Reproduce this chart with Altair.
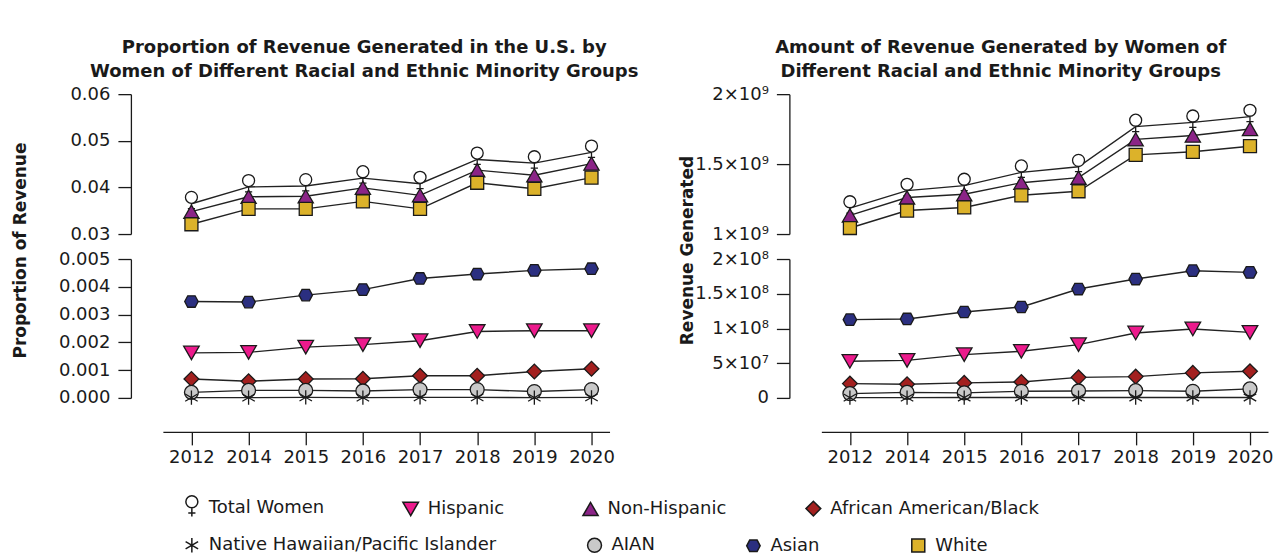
import altair as alt
import pandas as pd

years = ["2012", "2014", "2015", "2016", "2017", "2018", "2019", "2020"]

series_order = ["Total Women", "Hispanic", "Non-Hispanic", "African American/Black",
                "Native Hawaiian/Pacific Islander", "AIAN", "Asian", "White"]
legend_row1 = ["Total Women", "Hispanic", "Non-Hispanic", "African American/Black"]
legend_row2 = ["Native Hawaiian/Pacific Islander", "AIAN", "Asian", "White"]
series_fill = ["#ffffff", "#ec1a8c", "#8b2487", "#a3201f", "#111111", "#c9c9c9", "#2b2f80", "#dcb22a"]

FEMALE = "M0.75,-0.8A0.75,0.75,0,1,1,-0.75,-0.8A0.75,0.75,0,1,1,0.75,-0.8Z M0,-0.05L0,1.05M-0.45,0.62L0.45,0.62"
ASTERISK = "M0,-1L0,1M-0.87,-0.5L0.87,0.5M-0.87,0.5L0.87,-0.5"
HEXAGON = "M-1,0L-0.55,-0.85L0.55,-0.85L1,0L0.55,0.85L-0.55,0.85Z"
series_shape = [FEMALE, "triangle-down", "triangle-up", "diamond", ASTERISK, "circle", HEXAGON, "square"]
series_size = [256, 169, 169, 150, 100, 156, 225, 196]

# Proportion of revenue
prop_total_women = [0.0365, 0.0401, 0.0403, 0.0420, 0.0408, 0.0460, 0.0452, 0.0475]
prop_non_hispanic = [0.0348, 0.0380, 0.0381, 0.0399, 0.0383, 0.0437, 0.0426, 0.0451]
prop_white = [0.0321, 0.0354, 0.0354, 0.0370, 0.0354, 0.0410, 0.0397, 0.0421]
prop_asian = [0.00347, 0.00345, 0.00370, 0.00390, 0.00430, 0.00446, 0.00459, 0.00465]
prop_hispanic = [0.00162, 0.00164, 0.00183, 0.00192, 0.00206, 0.00239, 0.00242, 0.00242]
prop_african = [0.00068, 0.00060, 0.00068, 0.00069, 0.00080, 0.00080, 0.00095, 0.00105]
prop_aian = [0.00020, 0.00027, 0.00027, 0.00025, 0.00030, 0.00030, 0.00023, 0.00030]
prop_nhpi = [0.00001, 0.00001, 0.00002, 0.00001, 0.00002, 0.00002, 0.00001, 0.00002]

# Amount of revenue
rev_total_women = [1.185e9, 1.310e9, 1.346e9, 1.441e9, 1.481e9, 1.768e9, 1.798e9, 1.839e9]
rev_non_hispanic = [1.133e9, 1.261e9, 1.284e9, 1.367e9, 1.403e9, 1.677e9, 1.704e9, 1.751e9]
rev_white = [1.043e9, 1.168e9, 1.190e9, 1.277e9, 1.306e9, 1.566e9, 1.588e9, 1.628e9]
rev_asian = [1.127e8, 1.137e8, 1.237e8, 1.309e8, 1.568e8, 1.712e8, 1.832e8, 1.807e8]
rev_hispanic = [5.27e7, 5.41e7, 6.23e7, 6.71e7, 7.67e7, 9.35e7, 9.93e7, 9.44e7]
rev_african = [2.06e7, 1.96e7, 2.16e7, 2.30e7, 2.96e7, 3.07e7, 3.60e7, 3.83e7]
rev_aian = [6.2e6, 8.0e6, 7.2e6, 9.5e6, 1.0e7, 1.05e7, 9.5e6, 1.3e7]
rev_nhpi = [4e5, 4e5, 5e5, 5e5, 5e5, 6e5, 6e5, 6e5]

prop_upper_ticks = [0.03, 0.04, 0.05, 0.06]
prop_lower_ticks = [0.0, 0.001, 0.002, 0.003, 0.004, 0.005]
rev_upper_ticks = [1e9, 1.5e9, 2e9]
rev_lower_ticks = [0, 5e7, 1e8, 1.5e8, 2e8]

FONT = "DejaVu Sans"
INK = "#1a1a1a"


def long_df(pairs):
    rows = []
    for name, vals in pairs:
        for y, v in zip(years, vals):
            rows.append({"year": y, "series": name, "value": v})
    return pd.DataFrame(rows)


def leg(values, lx, ly, colpad):
    if values is None:
        return None
    return alt.Legend(title=None, values=values, orient="none", legendX=lx, legendY=ly,
                      direction="horizontal", columns=4, columnPadding=colpad, padding=0,
                      labelFontSize=18, labelFont=FONT, labelColor=INK, labelOffset=8, labelLimit=0)


def panel(df, domain, ticks, label_expr, height, show_x, y_title=None, title_x=0, title_y=0,
          chart_title=None, title_dx=0, legend_values=None, lx=0, ly=0, colpad=80):
    xscale = alt.Scale(type="point", padding=0.4075, align=0.613)
    if show_x:
        xaxis = alt.Axis(title=None, offset=34, tickSize=13, labelFontSize=18, labelPadding=4,
                         labelAngle=0, domainColor=INK, tickColor=INK, labelColor=INK,
                         domainWidth=1.3, tickWidth=1.3, labelFont=FONT)
    else:
        xaxis = None
    yargs = dict(values=ticks, labelExpr=label_expr, offset=32, tickSize=13, labelFontSize=18,
                 labelPadding=8, grid=False, domainColor=INK, tickColor=INK, labelColor=INK,
                 domainWidth=1.3, tickWidth=1.3, labelFont=FONT)
    if y_title:
        yargs.update(title=y_title, titleFontSize=17, titleFontWeight="bold", titleFont=FONT,
                     titleColor=INK, titleX=title_x, titleY=title_y, titleAlign="center",
                     titleBaseline="middle", titleAngle=270)
    else:
        yargs.update(title=None)
    x = alt.X("year:O", scale=xscale, axis=xaxis, sort=years)
    y = alt.Y("value:Q", scale=alt.Scale(domain=domain, nice=False, zero=False), axis=alt.Axis(**yargs))
    base = alt.Chart(df)
    lines = base.mark_line(color="#222222", strokeWidth=1.4).encode(x=x, y=y, detail="series:N")
    lg = leg(legend_values, lx, ly, colpad)
    pts = base.mark_point(filled=True, strokeWidth=1.3, opacity=1).encode(
        x=x, y=y,
        fill=alt.Fill("series:N", scale=alt.Scale(domain=series_order, range=series_fill), legend=lg),
        shape=alt.Shape("series:N", scale=alt.Scale(domain=series_order, range=series_shape), legend=lg),
        size=alt.Size("series:N", scale=alt.Scale(domain=series_order, range=series_size), legend=lg),
        stroke=alt.Stroke("series:N", scale=alt.Scale(domain=series_order, range=[INK] * 8), legend=lg),
    )
    layered = lines + pts
    props = dict(width=447, height=height)
    if chart_title:
        props["title"] = alt.TitleParams(chart_title, fontSize=18, fontWeight="bold", font=FONT,
                                         color=INK, anchor="middle", frame="group", dx=title_dx,
                                         lineHeight=24, offset=4)
    return layered.properties(**props)


prop_up = long_df([("Total Women", prop_total_women), ("Non-Hispanic", prop_non_hispanic), ("White", prop_white)])
prop_lo = long_df([("Asian", prop_asian), ("Hispanic", prop_hispanic), ("African American/Black", prop_african),
                   ("AIAN", prop_aian), ("Native Hawaiian/Pacific Islander", prop_nhpi)])
rev_up = long_df([("Total Women", rev_total_women), ("Non-Hispanic", rev_non_hispanic), ("White", rev_white)])
rev_lo = long_df([("Asian", rev_asian), ("Hispanic", rev_hispanic), ("African American/Black", rev_african),
                  ("AIAN", rev_aian), ("Native Hawaiian/Pacific Islander", rev_nhpi)])

rev_expr = ("datum.value == 2e9 ? '2×10⁹' : datum.value == 1.5e9 ? '1.5×10⁹' : datum.value == 1e9 ? '1×10⁹' : "
            "datum.value == 2e8 ? '2×10⁸' : datum.value == 1.5e8 ? '1.5×10⁸' : datum.value == 1e8 ? '1×10⁸' : "
            "datum.value == 5e7 ? '5×10⁷' : '0'")

upper_left = panel(prop_up, [0.03, 0.06], prop_upper_ticks, "format(datum.value, '.2f')", 140, False,
                   chart_title=["Proportion of Revenue Generated in the U.S. by",
                                "Women of Different Racial and Ethnic Minority Groups"], title_dx=-22,
                   legend_values=legend_row1, lx=20, ly=405, colpad=75)
upper_right = panel(rev_up, [1e9, 2e9], rev_upper_ticks, rev_expr, 140, False,
                    chart_title=["Amount of Revenue Generated by  Women of",
                                 "Different Racial and Ethnic Minority Groups"], title_dx=-44)
lower_left = panel(prop_lo, [0, 0.005], prop_lower_ticks, "format(datum.value, '.3f')", 139, True,
                   "Proportion of Revenue", -110, -9,
                   legend_values=legend_row2, lx=20, ly=277, colpad=88)
lower_right = panel(rev_lo, [0, 2e8], rev_lower_ticks, rev_expr, 139, True,
                    "Revenue Generated", -102, -9)

chart = alt.concat(
    upper_left, upper_right, lower_left, lower_right,
    columns=2, spacing={"row": 25, "column": 212}, bounds="flush",
).resolve_scale(
    fill="independent", shape="independent", size="independent", stroke="independent"
).properties(
    padding={"left": 4, "top": 31, "right": 0, "bottom": 0}
).configure(font=FONT).configure_view(stroke=None)

chart.save("out.html", embed_options={"renderer": "svg", "actions": False})
